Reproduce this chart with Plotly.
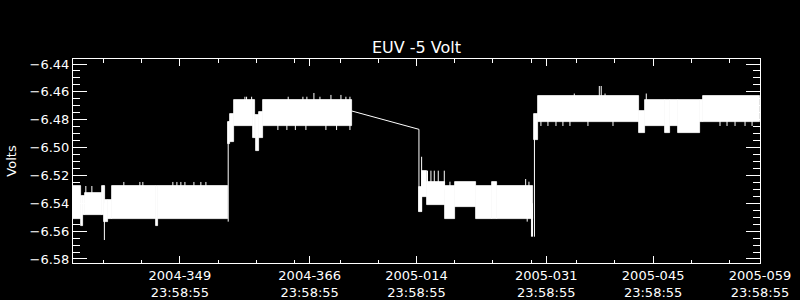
import numpy as np
import pandas as pd
import plotly.graph_objects as go

# ---- data: time in day-of-year 2004 (367 = 2005-001) ----
bin_start = [336.00, 337.03, 337.30, 337.55, 339.78, 340.05, 340.18, 340.57, 341.09, 346.85, 347.12,
             356.33, 356.55, 357.12, 359.57, 359.83, 359.96, 360.39, 360.84,
             381.32, 381.75, 382.37, 384.72, 386.03, 388.75, 390.92, 391.54,
             396.45, 396.86, 410.09, 410.97, 413.59, 414.25, 415.30, 418.18, 418.57]
bin_end = [337.03, 337.30, 337.55, 339.78, 340.05, 340.18, 340.57, 341.09, 346.85, 347.12, 356.33,
           356.55, 357.12, 359.57, 359.83, 359.96, 360.39, 360.84, 372.50,
           381.75, 382.37, 384.72, 386.03, 388.75, 390.92, 391.54, 396.30,
           396.86, 410.09, 410.97, 413.59, 414.25, 415.30, 418.18, 418.57, 426.00]
bin_low = [-6.5513, -6.5563, -6.5484, -6.5484, -6.5484, -6.5534, -6.5534, -6.5513, -6.5513, -6.5563, -6.5513,
           -6.4975, -6.4960, -6.4843, -6.4931, -6.4931, -6.5025, -6.4931, -6.4843,
           -6.5460, -6.5357, -6.5412, -6.5513, -6.5429, -6.5513, -6.5513, -6.5513,
           -6.4946, -6.4814, -6.4893, -6.4845, -6.4893, -6.4845, -6.4893, -6.4814, -6.4814]
bin_high = [-6.5276, -6.5348, -6.5348, -6.5326, -6.5276, -6.5276, -6.5376, -6.5376, -6.5276, -6.5276, -6.5276,
            -6.4813, -6.4759, -6.4658, -6.4658, -6.4766, -6.4766, -6.4742, -6.4658,
            -6.5280, -6.5166, -6.5245, -6.5276, -6.5245, -6.5276, -6.5245, -6.5276,
            -6.4759, -6.4630, -6.4735, -6.4658, -6.4658, -6.4658, -6.4658, -6.4658, -6.4630]

spike_t = [337.68, 338.47, 340.11, 342.66, 344.76, 345.15, 349.08, 349.61, 350.13, 350.66, 351.84, 352.75, 353.41,
           356.33,
           358.52, 358.74, 359.40, 364.19, 366.12, 366.64, 367.56, 368.35, 369.79, 371.10, 371.75, 372.28,
           362.84, 364.02, 365.13, 366.51, 369.13, 370.53, 372.28,
           381.32, 381.67, 382.44, 382.89, 383.33, 383.85, 384.64, 385.38, 395.30, 395.73, 395.50, 396.06, 396.20,
           396.45,
           401.67, 404.95, 405.20, 405.70, 411.10,
           397.30, 398.22, 399.27, 400.18, 401.10, 403.46, 406.74, 420.76, 421.68, 422.73, 424.04, 424.96]
spike_low = [-6.5330, -6.5330, -6.5664, -6.5300, -6.5300, -6.5300, -6.5300, -6.5300, -6.5300, -6.5300, -6.5300, -6.5300, -6.5300,
             -6.5532,
             -6.4700, -6.4700, -6.4700, -6.4700, -6.4700, -6.4700, -6.4700, -6.4700, -6.4700, -6.4700, -6.4700, -6.4700,
             -6.4874, -6.4874, -6.4874, -6.4874, -6.4874, -6.4874, -6.4874,
             -6.5460, -6.5460, -6.5300, -6.5300, -6.5300, -6.5300, -6.5300, -6.5300, -6.5300, -6.5300, -6.5532, -6.5640, -6.5640,
             -6.5640,
             -6.4700, -6.4700, -6.4700, -6.4700, -6.4700,
             -6.4845, -6.4845, -6.4845, -6.4845, -6.4845, -6.4845, -6.4845, -6.4845, -6.4845, -6.4845, -6.4845, -6.4845]
spike_high = [-6.5276, -6.5276, -6.5400, -6.5247, -6.5247, -6.5247, -6.5247, -6.5247, -6.5247, -6.5247, -6.5247, -6.5247, -6.5247,
              -6.4813,
              -6.4635, -6.4635, -6.4635, -6.4635, -6.4635, -6.4635, -6.4608, -6.4635, -6.4622, -6.4622, -6.4635, -6.4635,
              -6.4800, -6.4800, -6.4800, -6.4800, -6.4800, -6.4800, -6.4800,
              -6.4869, -6.5066, -6.5166, -6.5166, -6.5166, -6.5166, -6.5166, -6.5245, -6.5226, -6.5245, -6.5400, -6.5400, -6.5400,
              -6.4759,
              -6.4612, -6.4558, -6.4558, -6.4612, -6.4612,
              -6.4750, -6.4750, -6.4750, -6.4750, -6.4750, -6.4750, -6.4750, -6.4750, -6.4750, -6.4750, -6.4750, -6.4750]

gap_t = [372.50, 381.32]
gap_v = [-6.4737, -6.4869]

tick_dates = ["2004-12-14 23:58:55", "2004-12-31 23:58:55", "2005-01-14 23:58:55",
              "2005-01-31 23:58:55", "2005-02-14 23:58:55", "2005-02-28 23:58:55"]
tick_labels = ["2004-349<br>23:58:55", "2004-366<br>23:58:55", "2005-014<br>23:58:55",
               "2005-031<br>23:58:55", "2005-045<br>23:58:55", "2005-059<br>23:58:55"]
minor_dates = ["2004-12-05", "2004-12-10", "2004-12-20", "2004-12-25", "2004-12-30",
               "2005-01-05", "2005-01-10", "2005-01-20", "2005-01-25", "2005-01-30",
               "2005-02-05", "2005-02-10", "2005-02-20", "2005-02-25"]
x_range = ["2004-11-30 23:58:55", "2005-02-28 23:58:55"]
y_range = [-6.5829, -6.4364]
y_ticks = [-6.58, -6.56, -6.54, -6.52, -6.50, -6.48, -6.46, -6.44]

BASE = pd.Timestamp("2004-01-01")


def to_time(doy):
    return BASE + pd.to_timedelta(np.asarray(doy, dtype=float) - 1.0, unit="D")


bs = to_time(bin_start)
widths_ms = (np.asarray(bin_end) - np.asarray(bin_start)) * 86400000.0

fig = go.Figure()
fig.add_trace(go.Bar(
    x=bs, y=np.asarray(bin_high) - np.asarray(bin_low), base=bin_low,
    width=widths_ms, offset=0,
    marker=dict(color="white", line=dict(color="white", width=0.8)),
    showlegend=False, hoverinfo="skip"))

st = to_time(spike_t)
sx, sy = [], []
for t, lo, hi in zip(st, spike_low, spike_high):
    sx += [t, t, None]
    sy += [lo, hi, None]
fig.add_trace(go.Scatter(x=sx, y=sy, mode="lines", line=dict(color="white", width=1),
                         showlegend=False, hoverinfo="skip"))
fig.add_trace(go.Scatter(x=to_time(gap_t), y=gap_v, mode="lines", line=dict(color="white", width=1),
                         showlegend=False, hoverinfo="skip"))

font = "DejaVu Sans"
fig.update_layout(
    width=800, height=300,
    margin=dict(l=73, r=40, t=59, b=37, autoexpand=False),
    paper_bgcolor="black", plot_bgcolor="black",
    font=dict(family=font, color="white", size=13),
    bargap=0, barmode="overlay",
    title=dict(text="EUV -5 Volt", x=0.5, xref="paper", xanchor="center",
               y=1 - 47.5 / 300, yref="container", yanchor="middle",
               font=dict(size=16, color="white", family=font)),
    xaxis=dict(type="date", range=x_range, tickmode="array", tickvals=tick_dates, ticktext=tick_labels,
               automargin=False,
               showline=True, linecolor="white", linewidth=1, mirror="ticks",
               ticks="inside", ticklen=7, tickcolor="white", tickwidth=1,
               showgrid=False, zeroline=False,
               minor=dict(tickmode="array", tickvals=minor_dates, ticks="inside", ticklen=3.5,
                          tickcolor="white", tickwidth=1, showgrid=False),
               tickfont=dict(size=13, color="white", family=font)),
    yaxis=dict(range=y_range, tickmode="array", tickvals=y_ticks, tickformat=".2f",
               automargin=False,
               showline=True, linecolor="white", linewidth=1, mirror="ticks",
               ticks="inside", ticklen=14, tickcolor="white", tickwidth=1,
               showgrid=False, zeroline=False,
               minor=dict(dtick=0.005, tick0=-6.58, ticks="inside", ticklen=7,
                          tickcolor="white", tickwidth=1, showgrid=False),
               title=dict(text="Volts", standoff=10, font=dict(size=13, color="white", family=font)),
               tickfont=dict(size=13, color="white", family=font)),
)

fig.write_html("out.html")
